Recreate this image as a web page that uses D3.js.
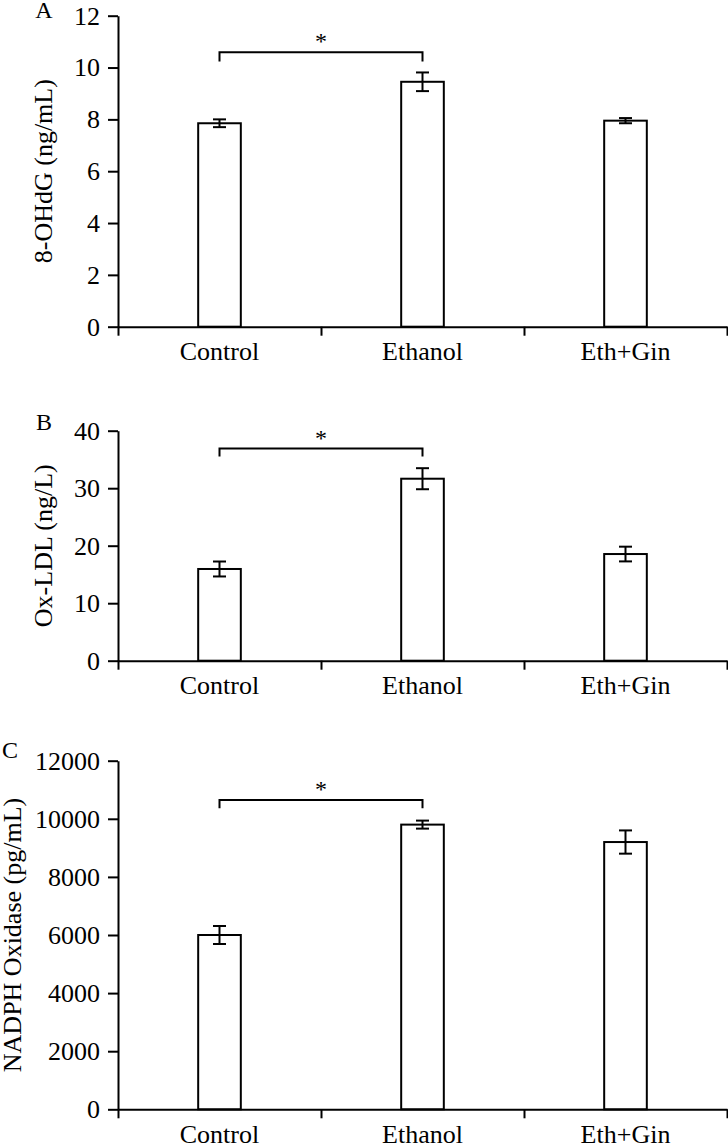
<!DOCTYPE html>
<html>
<head>
<meta charset="utf-8">
<script src="https://cdn.jsdelivr.net/npm/d3@7"></script>
<style>
  html, body { margin: 0; padding: 0; background: #fff; }
  svg { display: block; }
  text { font-family: "Liberation Serif", "Times New Roman", serif; fill: #000; }
</style>
</head>
<body>
<svg id="chart" width="728" height="1148"></svg>
<script>
// ---- data ----
const categories = ["Control", "Ethanol", "Eth+Gin"];

const panelLetters = ["A", "B", "C"];
const yLabels = ["8-OHdG (ng/mL)", "Ox-LDL (ng/L)", "NADPH Oxidase (pg/mL)"];

const ohdgMeans = [7.85, 9.45, 7.95];
const ohdgErrors = [0.15, 0.36, 0.1];
const ohdgTicks = [0, 2, 4, 6, 8, 10, 12];

const oxldlMeans = [15.95, 31.65, 18.55];
const oxldlErrors = [1.3, 1.83, 1.28];
const oxldlTicks = [0, 10, 20, 30, 40];

const nadphMeans = [6000, 9800, 9200];
const nadphErrors = [310, 138, 400];
const nadphTicks = [0, 2000, 4000, 6000, 8000, 10000, 12000];

// significance bracket: [from index, to index, bar level, leg level]
const ohdgSig = [0, 1, 10.59, 10.23];
const oxldlSig = [0, 1, 36.9, 35.5];
const nadphSig = [0, 1, 10645, 10360];

// ---- layout ----
const svg = d3.select("#chart");
const left = 118, right = 727;
const fontSize = 26;

const panels = [
  { means: ohdgMeans, errs: ohdgErrors, ticks: ohdgTicks, sig: ohdgSig, top: 15.7, bottom: 326.7, labelX: 52, letterX: 44, letterY: 18 },
  { means: oxldlMeans, errs: oxldlErrors, ticks: oxldlTicks, sig: oxldlSig, top: 430.7, bottom: 660.7, labelX: 52, letterX: 44, letterY: 430 },
  { means: nadphMeans, errs: nadphErrors, ticks: nadphTicks, sig: nadphSig, top: 760.7, bottom: 1109.3, labelX: 21, letterX: 10, letterY: 758 }
];

panels.forEach((p, i) => {
  const g = svg.append("g");
  const yMax = p.ticks[p.ticks.length - 1];
  const y = d3.scaleLinear().domain([0, yMax]).range([p.bottom, p.top]);
  const x = d3.scaleBand().domain(categories).range([left, right])
    .paddingInner(0.79).paddingOuter(0.395);
  const boundary = d3.scaleLinear().domain([0, categories.length]).range([left, right]);

  // bars
  g.selectAll("rect.bar").data(categories).enter().append("rect")
    .attr("x", d => x(d))
    .attr("y", (d, j) => y(p.means[j]))
    .attr("width", x.bandwidth())
    .attr("height", (d, j) => y(0) - y(p.means[j]))
    .attr("fill", "#fff").attr("stroke", "#000").attr("stroke-width", 2);

  // error bars
  const cx = d => x(d) + x.bandwidth() / 2;
  const cap = 6.5;
  const eb = g.selectAll("g.err").data(categories).enter().append("g");
  eb.append("line")
    .attr("x1", cx).attr("x2", cx)
    .attr("y1", (d, j) => y(p.means[j] + p.errs[j]))
    .attr("y2", (d, j) => y(p.means[j] - p.errs[j]))
    .attr("stroke", "#000").attr("stroke-width", 2);
  [1, -1].forEach(s => {
    eb.append("line")
      .attr("x1", d => cx(d) - cap).attr("x2", d => cx(d) + cap)
      .attr("y1", (d, j) => y(p.means[j] + s * p.errs[j]))
      .attr("y2", (d, j) => y(p.means[j] + s * p.errs[j]))
      .attr("stroke", "#000").attr("stroke-width", 2);
  });

  // significance bracket
  const [a, b, lvl, leg] = p.sig;
  const xa = cx(categories[a]), xb = cx(categories[b]);
  g.append("path")
    .attr("d", `M${xa},${y(leg)}V${y(lvl)}H${xb}V${y(leg)}`)
    .attr("fill", "none").attr("stroke", "#000").attr("stroke-width", 2);
  g.append("text")
    .attr("x", (xa + xb) / 2).attr("y", y(lvl) - 3)
    .attr("text-anchor", "middle").attr("font-size", 24)
    .text("*");

  // y axis
  const yAxis = g.append("g").attr("transform", `translate(${left},0)`)
    .call(d3.axisLeft(y).tickValues(p.ticks).tickFormat(d3.format("d"))
      .tickSize(10).tickSizeOuter(0).tickPadding(8));
  yAxis.selectAll("text").attr("font-size", fontSize).attr("font-family", null);
  yAxis.selectAll("line, path").attr("stroke", "#000").attr("stroke-width", 2);

  // x axis with boundary ticks
  const xAxis = g.append("g").attr("transform", `translate(0,${p.bottom})`)
    .call(d3.axisBottom(boundary).tickValues(d3.range(categories.length + 1))
      .tickSize(9).tickSizeOuter(0).tickFormat(""));
  xAxis.selectAll("line, path").attr("stroke", "#000").attr("stroke-width", 2);

  // category labels
  const xLab = g.append("g").attr("transform", `translate(0,${p.bottom})`)
    .call(d3.axisBottom(x).tickSize(0).tickPadding(15));
  xLab.select(".domain").remove();
  xLab.selectAll("text").attr("font-size", fontSize).attr("font-family", null);

  // y label
  g.append("text")
    .attr("transform", `translate(${p.labelX},${(p.top + p.bottom) / 2}) rotate(-90)`)
    .attr("text-anchor", "middle").attr("font-size", fontSize)
    .text(yLabels[i]);

  // panel letter
  g.append("text")
    .attr("x", p.letterX).attr("y", p.letterY)
    .attr("text-anchor", "middle").attr("font-size", 24)
    .text(panelLetters[i]);
});
</script>
</body>
</html>
